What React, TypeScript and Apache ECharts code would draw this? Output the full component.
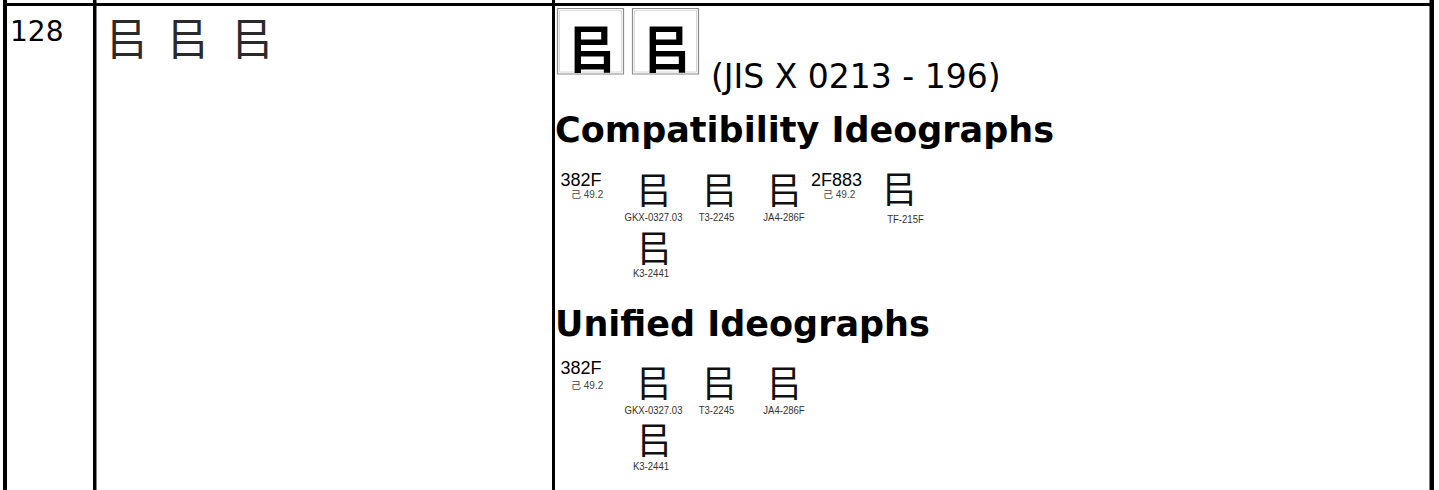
import React, { useEffect, useRef } from "react";
import * as echarts from "echarts";

// ---- content ----
const rowNumber = "128";
const variantChar = "㠯";
const variantFonts = ["Noto Sans CJK SC", "Noto Sans CJK TC", "Noto Sans CJK JP"];
const jisNote = "(JIS X 0213 - 196)";
const sectionTitles = ["Compatibility Ideographs", "Unified Ideographs"];
const radicalStroke = "己 49.2";
const compatCodes = ["382F", "2F883"];
const compatRefs = ["GKX-0327.03", "T3-2245", "JA4-286F", "TF-215F", "K3-2441"];
const unifiedCodes = ["382F"];
const unifiedRefs = ["GKX-0327.03", "T3-2245", "JA4-286F", "K3-2441"];

const W = 1439;
const H = 490;

const refFont = (ref: string) =>
  ref.startsWith("G") ? "Noto Sans CJK SC" : ref.startsWith("T") ? "Noto Sans CJK TC" : ref.startsWith("J") ? "Noto Sans CJK JP" : "Noto Sans CJK KR";

function txt(text: string, x: number, y: number, o: any = {}) {
  const align = o.align || "left";
  return {
    type: "text",
    x,
    y,
    scaleX: o.scaleX || 1,
    silent: true,
    style: {
      text,
      fontSize: o.size || 14,
      fontFamily: o.family || "DejaVu Sans",
      fontWeight: o.weight || "normal",
      fill: o.fill || "#000",
      align,
      textAlign: align,
      verticalAlign: "middle",
      textVerticalAlign: "middle",
    },
  };
}

function rect(x: number, y: number, w: number, h: number, fill = "#000") {
  return { type: "rect", silent: true, shape: { x, y, width: w, height: h }, style: { fill } };
}

function sourceBlock(codes: string[], refs: string[], glyphY: number, codeY: number, smallY: number, labelY: number, k3Y: number, k3LabelY: number) {
  const els: any[] = [];
  const codeXs = [560.5, 811];
  const smallXs = [571, 823];
  codes.forEach((c, i) => {
    els.push(txt(c, codeXs[i], codeY, { size: 18, family: "Liberation Sans" }));
    els.push(txt(radicalStroke, smallXs[i], smallY, { size: 10, family: "Liberation Sans, Noto Sans CJK SC", fill: "#444" }));
  });
  const glyphXs = [653.5, 719, 784, 899];
  const labelXs = [653.5, 716.5, 784, 905.5];
  refs.forEach((r, i) => {
    const isK = r.startsWith("K");
    const gx = isK ? 654 : glyphXs[i];
    const lx = isK ? 651 : labelXs[i];
    const gy = isK ? k3Y : glyphY + (r.startsWith("TF") ? -1 : 0);
    const ly = isK ? k3LabelY : labelY + (r.startsWith("TF") ? 2 : 0);
    els.push(txt(variantChar, gx, gy, { size: 37, family: refFont(r), align: "center", fill: "#111" }));
    els.push(txt(r, lx, ly, { size: 11, family: "Liberation Sans", align: "center", fill: "#333", scaleX: 0.87 }));
  });
  return els;
}

export default function App() {
  const ref = useRef<HTMLDivElement>(null);
  useEffect(() => {
    document.body.style.margin = "0";
    const chart = echarts.init(ref.current!, undefined, { renderer: "svg" });
    const elements: any[] = [];
    // table borders
    elements.push(rect(3, 3, 1431, 3));
    elements.push(rect(3, 0, 4, H));
    elements.push(rect(93, 0, 3.5, H));
    elements.push(rect(552, 0, 3, H));
    elements.push(rect(1429.5, 0, 4.5, H));
    // row number
    elements.push(txt(rowNumber, 10, 31, { size: 28 }));
    // variant glyphs
    const vx = [126.5, 187.5, 252];
    variantFonts.forEach((f, i) => elements.push(txt(variantChar, vx[i], 36, { size: 44, family: f, align: "center", fill: "#2a2a2a" })));
    // image boxes
    [557.5, 632.5].forEach((bx, i) => {
      elements.push({ type: "rect", silent: true, shape: { x: bx, y: 8.5, width: 66, height: 65.5 }, style: { fill: "#fff", stroke: "#8a8a8a", lineWidth: 1.2 } });
      elements.push({ type: "rect", silent: true, shape: { x: bx + 2, y: 10.5, width: 62, height: 61.5 }, style: { fill: "none", stroke: "#d8d8d8", lineWidth: 1 } });
      elements.push(txt(variantChar, bx + 34, 45, { size: 52, weight: "bold", family: i === 0 ? "Noto Sans CJK JP" : "Noto Sans CJK TC", align: "center" }));
    });
    elements.push(txt(jisNote, 711, 76, { size: 33 }));
    // section titles
    elements.push(txt(sectionTitles[0], 555, 130, { size: 35, weight: "bold" }));
    elements.push(txt(sectionTitles[1], 555, 324, { size: 35, weight: "bold" }));
    // source glyph blocks
    elements.push(...sourceBlock(compatCodes, compatRefs, 188, 180, 194, 217, 246, 273));
    elements.push(...sourceBlock(unifiedCodes, unifiedRefs, 381, 367.5, 385.5, 410, 438, 466));
    chart.setOption({
      animation: false,
      backgroundColor: "#fff",
      graphic: { elements },
    });
    return () => chart.dispose();
  }, []);
  return <div ref={ref} style={{ position: "absolute", left: 0, top: 0, width: W, height: H }} />;
}
